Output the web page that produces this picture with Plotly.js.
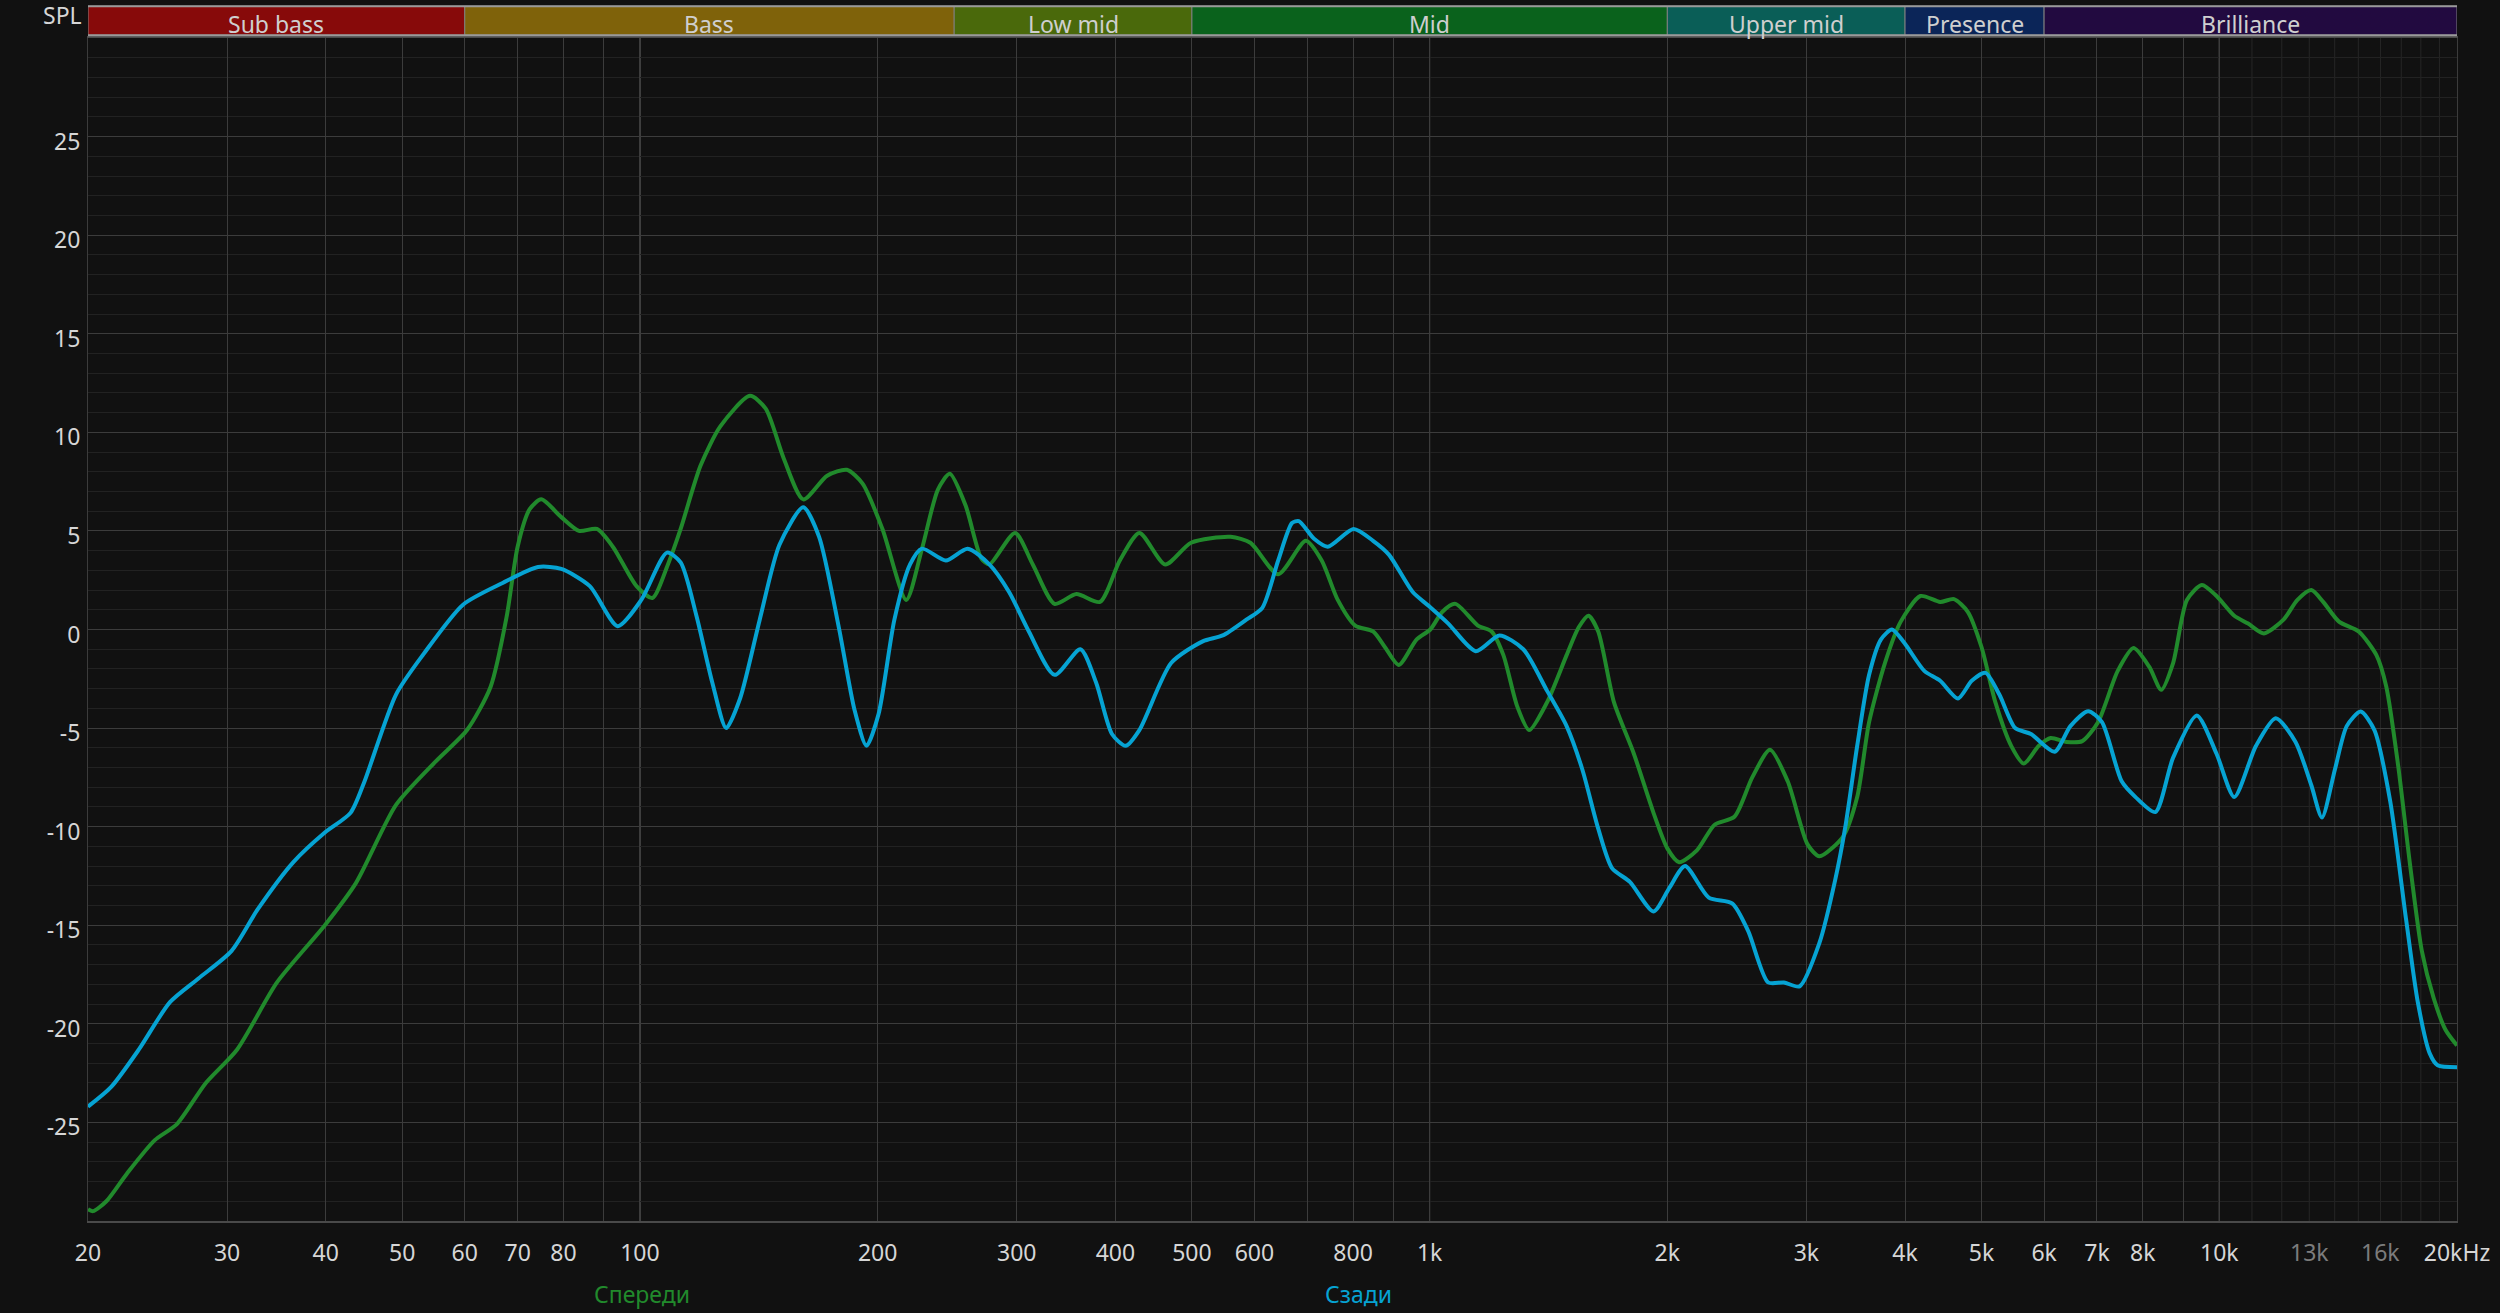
<!DOCTYPE html>
<html>
<head>
<meta charset="utf-8">
<script src="https://cdn.plot.ly/plotly-3.0.1.min.js"></script>
<style>
html,body{margin:0;padding:0;background:#111111;}
#chart{width:2500px;height:1313px;}
</style>
</head>
<body>
<div id="chart"></div>
<script>
// ---------- data ----------
const frontName = 'Спереди';
const rearName = 'Сзади';

const frontFreq = [20,20.3,21.1,22.4,24.3,25.9,28.2,30.9,34.7,39.9,43.7,49.1,55.1,60.4,64.7,67.8,70.0,72.5,75.0,79.5,83.7,88.2,92.4,99.0,103.7,108.5,
  112.6,119.3,126.4,137.8,144.3,152,161,172.6,182.8,191.4,202.8,217.4,227.6,238.4,246.8,258.4,270.6,277,298.5,314.4,335,357,382.4,405.2,429,462.6,498.8,559.8,593,643,
  697,730,765,805,848,878,914,963,1002,1038,1078,1151,1198,1240,1291,1337,1408,1491,1544,1589,1635,1712,1814,1921,2000,2070,2180,2296,2432,2562,2698,2841,3010,3116,3339,
  3479,3602,3772,3950,4183,4431,4613,4803,5000,5206,5451,5655,5908,6116,6404,6706,7022,7437,7788,8155,8443,8740,9099,9506,9920,10447,10877,11390,12060,12560,13078,13538,14176,15014,15812,16274,16846,17438,18050,18685,19340,20000];
const frontSpl = [-29.4,-29.5,-29.0,-27.6,-25.9,-25.1,-23.0,-21.3,-17.9,-15.0,-12.85,-8.9,-6.7,-5.1,-2.9,0.66,4.2,6.1,6.6,5.7,5.0,5.1,4.2,2.2,1.6,3.3,
  5.1,8.3,10.3,11.85,11.2,8.7,6.6,7.8,8.1,7.4,5.1,1.5,4.1,7.1,7.9,6.3,3.6,3.3,4.9,3.3,1.3,1.8,1.4,3.5,4.9,3.3,4.4,4.7,4.4,2.8,
  4.5,3.5,1.5,0.2,-0.1,-0.9,-1.8,-0.5,0,0.9,1.3,0.2,-0.1,-1.3,-3.9,-5.1,-3.7,-1.3,0.1,0.7,-0.1,-3.7,-6.3,-9.3,-11.1,-11.8,-11.2,-9.9,-9.5,-7.5,-6.1,-7.7,-10.9,-11.5,-10.5,
  -8.5,-4.7,-1.7,0.4,1.7,1.4,1.54,0.9,-0.9,-3.7,-5.9,-6.8,-5.9,-5.5,-5.7,-5.66,-4.7,-2.1,-0.94,-1.9,-3.06,-1.7,1.5,2.26,1.7,0.7,0.3,-0.2,0.5,1.5,2.0,1.4,0.4,-0.1,-1.3,-2.9,-6.9,-11.9,-16.3,-18.7,-20.3,-21.1];

const rearFreq = [20,21.4,23.2,25.4,27.6,30.4,32.8,36.4,39.9,43.0,44.7,49.1,53.2,59.7,67.0,74.3,79.5,86.4,93.7,100.4,108.2,
  112.6,117.9,123.5,128.6,133.9,141.8,150.2,161,168.6,178.6,187,193.6,200.5,210,219.8,227.6,244,260,277,293.4,310.8,335,361.2,378.2,396,412.2,429,470.6,516,547,586,614,643,669.4,
  683,714,743,801,848,888,952,997,1056,1144,1226,1314,1408,1491,1561,1635,1702,1793,1921,2012,2106,2257,2418,2532,2683,2809,2941,3116,3263,
  3361,3479,3602,3729,3851,3995,4231,4431,4667,4859,5058,5266,5514,5774,6187,6478,6823,7103,7523,7834,8299,8740,9365,9920,10447,11130,11790,12490,13078,13490,14010,14500,15100,15720,16460,17240,17840,18470,18900,20000];
const rearSpl = [-24.2,-23.2,-21.3,-18.9,-17.7,-16.3,-14.2,-11.8,-10.3,-9.3,-7.8,-3.3,-1.25,1.26,2.36,3.17,3.07,2.2,0.17,1.5,3.9,
  3.4,0.7,-2.7,-5.0,-3.5,0.5,4.3,6.2,4.7,0.1,-4.1,-5.9,-4.3,0.5,3.3,4.1,3.5,4.1,3.3,1.9,-0.1,-2.3,-1.0,-2.7,-5.3,-5.9,-5.1,-1.7,-0.6,-0.3,0.5,1.1,3.5,5.4,
  5.5,4.6,4.2,5.1,4.5,3.8,1.9,1.2,0.3,-1.1,-0.3,-1.0,-3.1,-4.9,-7.1,-10.1,-12.1,-12.8,-14.3,-13.1,-12.0,-13.6,-13.9,-15.3,-17.9,-17.9,-18.1,-15.9,-12.7,
  -10.0,-5.9,-2.3,-0.5,0,-0.7,-2.1,-2.6,-3.5,-2.6,-2.2,-3.3,-5.0,-5.3,-6.2,-4.9,-4.14,-4.7,-7.7,-8.5,-9.26,-6.5,-4.36,-6.3,-8.5,-5.9,-4.5,-5.7,-7.9,-9.54,-7.1,-4.9,-4.16,-5.1,-8.7,-14.7,-18.9,-21.5,-22.1,-22.2];

const bandNames = ['Sub bass','Bass','Low mid','Mid','Upper mid','Presence','Brilliance'];
const bandEdges = [20,60,250,500,2000,4000,6000,20000];
const bandColors = ['#870a0a','#7f620a','#4a690b','#0a621c','#0a5e57','#0b2558','#220a40'];

const xTickVals = [20,30,40,50,60,70,80,90,100,200,300,400,500,600,700,800,900,1000,2000,3000,4000,5000,6000,7000,8000,9000,10000,20000];
const xTickText = ['20','30','40','50','60','70','80','','100','200','300','400','500','600','','800','','1k','2k','3k','4k','5k','6k','7k','8k','','10k','20kHz'];
const dimGridVals = [11000,12000,13000,14000,15000,16000,17000,18000,19000];
const dimLabelVals = [13000,16000];
const dimLabelText = ['13k','16k'];
const accentGridVals = [100,1000,10000];
const yTickVals = [-25,-20,-15,-10,-5,0,5,10,15,20,25];
const yTickText = ['-25','-20','-15','-10','-5','0','5','10','15','20','25'];

// ---------- style ----------
const FONT = 'Noto Sans, Open Sans, DejaVu Sans, sans-serif';
const GREEN = '#218a2c';
const BLUE = '#06a3d3';

const traces = [
  {x: frontFreq, y: frontSpl, name: frontName, type: 'scatter', mode: 'lines',
   line: {color: GREEN, width: 4, shape: 'spline', smoothing: 0.7}, hoverinfo: 'x+y+name'},
  {x: rearFreq, y: rearSpl, name: rearName, type: 'scatter', mode: 'lines',
   line: {color: BLUE, width: 4, shape: 'spline', smoothing: 0.7}, hoverinfo: 'x+y+name'}
];

const shapes = [];
const annotations = [];
const BAND_Y0 = 1.0023, BAND_Y1 = 1.0268;
for (let i = 0; i < bandNames.length; i++) {
  shapes.push({type: 'rect', xref: 'x', yref: 'paper', x0: bandEdges[i], x1: bandEdges[i+1],
    y0: BAND_Y0, y1: BAND_Y1, fillcolor: bandColors[i], line: {color: '#808080', width: 1}, layer: 'above'});
  annotations.push({xref: 'x', yref: 'paper', x: (Math.log10(bandEdges[i]) + Math.log10(bandEdges[i+1])) / 2,
    y: 1.0117, text: bandNames[i], showarrow: false, xanchor: 'center', yanchor: 'middle',
    font: {family: FONT, size: 23, color: '#cfcfcf'}});
}
shapes.push({type: 'line', xref: 'paper', yref: 'paper', x0: 0, x1: 1, y0: BAND_Y1, y1: BAND_Y1, line: {color: '#9a9a9a', width: 2}, layer: 'above'});
shapes.push({type: 'line', xref: 'paper', yref: 'paper', x0: 0, x1: 1, y0: BAND_Y0, y1: BAND_Y0, line: {color: '#9a9a9a', width: 2}, layer: 'above'});
dimGridVals.forEach(v => shapes.push({type: 'line', xref: 'x', yref: 'paper', x0: v, x1: v, y0: 0, y1: 1,
  line: {color: '#262626', width: 1}, layer: 'below'}));
accentGridVals.forEach(v => shapes.push({type: 'line', xref: 'x', yref: 'paper', x0: v, x1: v, y0: 0, y1: 1,
  line: {color: '#7a7a7a', width: 1}, layer: 'between'}));
dimLabelVals.forEach((v, i) => annotations.push({xref: 'x', yref: 'paper', x: Math.log10(v), y: -0.026,
  text: dimLabelText[i], showarrow: false, xanchor: 'center', yanchor: 'middle', font: {family: FONT, size: 23, color: '#7c7c7c'}}));

annotations.push({xref: 'paper', yref: 'paper', x: -0.0018, y: 1.0195, text: 'SPL', showarrow: false,
  xanchor: 'right', yanchor: 'middle', font: {family: FONT, size: 23, color: '#d6d6d6'}});
annotations.push({xref: 'paper', yref: 'paper', x: 0.2338, y: -0.0615, text: frontName, showarrow: false,
  xanchor: 'center', yanchor: 'middle', font: {family: FONT, size: 23, color: GREEN}});
annotations.push({xref: 'paper', yref: 'paper', x: 0.5365, y: -0.0615, text: rearName, showarrow: false,
  xanchor: 'center', yanchor: 'middle', font: {family: FONT, size: 23, color: BLUE}});

const layout = {
  width: 2500, height: 1313,
  margin: {l: 88, r: 43, t: 38, b: 92, pad: 0},
  paper_bgcolor: '#111111', plot_bgcolor: '#111111',
  showlegend: false,
  font: {family: FONT, color: '#d6d6d6', size: 23},
  xaxis: {
    type: 'log', range: [Math.log10(20), Math.log10(20000)],
    tickmode: 'array', tickvals: xTickVals, ticktext: xTickText,
    showgrid: true, gridcolor: '#3c3c3c', gridwidth: 1,
    zeroline: false, ticks: '', showline: true, linecolor: '#4a4a4a', linewidth: 2, mirror: true,
    tickfont: {family: FONT, size: 23, color: '#d6d6d6'}, ticklabelstandoff: 10
  },
  yaxis: {
    range: [-30, 30], tickmode: 'array', tickvals: yTickVals, ticktext: yTickText,
    showgrid: true, gridcolor: '#3c3c3c', gridwidth: 1,
    minor: {dtick: 1, showgrid: true, gridcolor: '#222222', gridwidth: 1},
    zeroline: false, ticks: '', showline: true, linecolor: '#3c3c3c', linewidth: 1, mirror: true,
    tickfont: {family: FONT, size: 23, color: '#d6d6d6'}, ticklabelstandoff: 2, ticklabelshift: 5
  },
  shapes: shapes,
  annotations: annotations
};

Plotly.newPlot('chart', traces, layout, {displayModeBar: false, staticPlot: true});
</script>
</body>
</html>
